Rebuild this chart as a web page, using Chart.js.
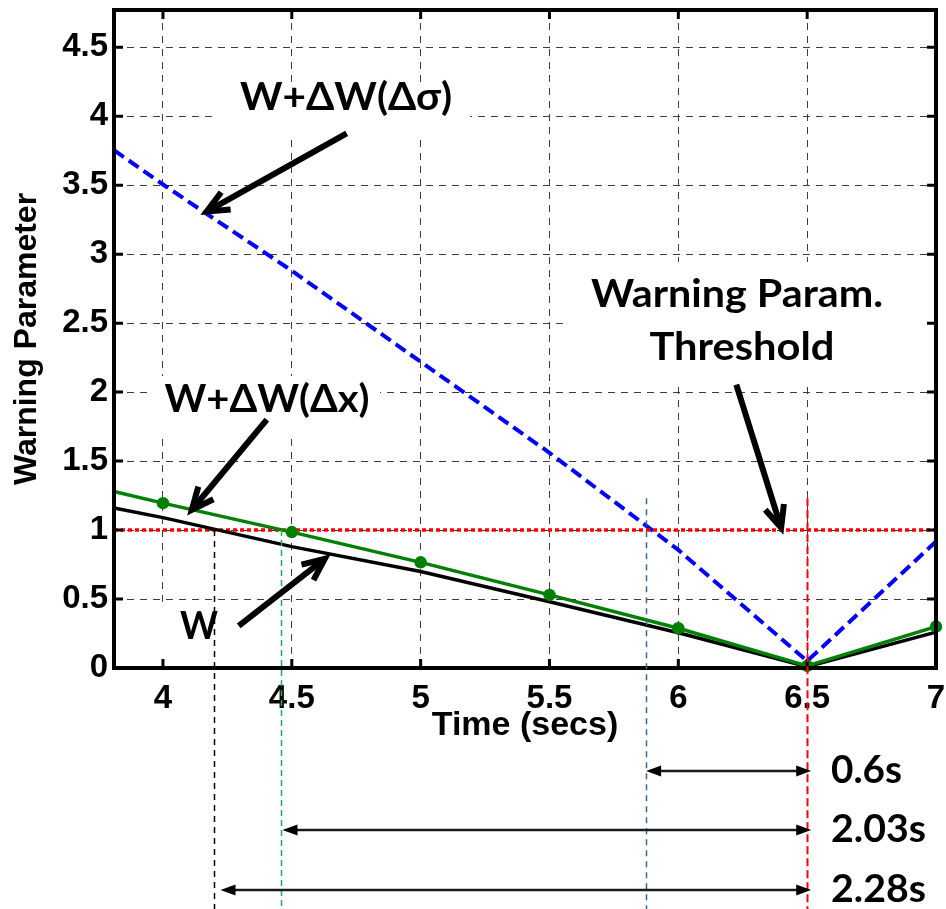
<!DOCTYPE html>
<html>
<head>
<meta charset="utf-8">
<script src="https://cdn.jsdelivr.net/npm/chart.js@4"></script>
<style>
  html, body { margin: 0; background: #fff; }
  #wrap { width: 946px; height: 909px; position: relative; }
</style>
</head>
<body>
<div id="wrap"><canvas id="warnChart"></canvas></div>
<script>
// time (secs)
const times = [3.81, 4, 4.5, 5, 5.5, 6, 6.5, 7];
// W
const wBase = [1.16, 1.09, 0.88, 0.70, 0.48, 0.256, 0.01, 0.26];
// W + dW(dx)
const wDx = [1.28, 1.195, 0.985, 0.766, 0.53, 0.288, 0.015, 0.30];
// W + dW(dsigma)
const wDsigma = [3.754, 3.505, 2.88, 2.22, 1.56, 0.856, 0.05, 0.917];

const threshold = 1;
const xTicks = [4, 4.5, 5, 5.5, 6, 6.5, 7];
const yTicks = [0, 0.5, 1, 1.5, 2, 2.5, 3, 3.5, 4, 4.5];

// where W, W+dW(dx), W+dW(dsigma) cross the threshold, and the alarm time
const crossTimes = [4.2, 4.46, 5.875];
const alarmTime = 6.5;
const leadLabels = ['2.28s', '2.03s', '0.6s'];

const pts = vals => times.map((t, i) => ({x: t, y: vals[i]}));

// callout text, stretched sideways to the width it has in the figure
function fitText(ctx, text, cx, base, size, width, align) {
  ctx.font = `bold ${size}px Lato`;
  const w = ctx.measureText(text).width;
  const k = width / w;
  ctx.save();
  ctx.translate(align === 'left' ? cx : cx - width / 2, base);
  ctx.scale(k, 1);
  ctx.textAlign = 'left';
  ctx.textBaseline = 'alphabetic';
  ctx.fillText(text, 0, 0);
  ctx.restore();
}

function openArrow(ctx, x0, y0, x1, y1) {
  const ang = Math.atan2(y1 - y0, x1 - x0);
  ctx.beginPath();
  ctx.moveTo(x0, y0);
  ctx.lineTo(x1 - 3 * Math.cos(ang), y1 - 3 * Math.sin(ang));
  ctx.stroke();
  const L = 24, s = 0.42;
  ctx.beginPath();
  ctx.moveTo(x1 - L * Math.cos(ang - s), y1 - L * Math.sin(ang - s));
  ctx.lineTo(x1, y1);
  ctx.lineTo(x1 - L * Math.cos(ang + s), y1 - L * Math.sin(ang + s));
  ctx.stroke();
}

function headAt(ctx, xt, yt, dir) {
  ctx.beginPath();
  ctx.moveTo(xt, yt);
  ctx.lineTo(xt - dir * 15, yt - 5.5);
  ctx.lineTo(xt - dir * 15, yt + 5.5);
  ctx.closePath();
  ctx.fill();
}

const overlay = {
  id: 'overlay',
  beforeDatasetsDraw(chart) {
    const ctx = chart.ctx;
    ctx.save();
    ctx.fillStyle = '#fff';
    [[214, 83, 256, 56], [567, 262, 372, 123], [150, 376, 230, 59], [140, 605, 110, 61]]
      .forEach(b => ctx.fillRect(b[0], b[1], b[2], b[3]));
    ctx.restore();
  },
  afterDraw(chart) {
    const {ctx, chartArea: a, scales: {x, y}} = chart;
    ctx.save();

    // frame + inward ticks
    ctx.strokeStyle = '#000';
    ctx.lineWidth = 4;
    ctx.strokeRect(a.left, a.top, a.right - a.left, a.bottom - a.top);
    ctx.lineWidth = 3;
    ctx.beginPath();
    xTicks.forEach(v => {
      const px = x.getPixelForValue(v);
      ctx.moveTo(px, a.bottom); ctx.lineTo(px, a.bottom - 9);
      ctx.moveTo(px, a.top); ctx.lineTo(px, a.top + 9);
    });
    yTicks.forEach(v => {
      const py = y.getPixelForValue(v);
      ctx.moveTo(a.left, py); ctx.lineTo(a.left + 9, py);
      ctx.moveTo(a.right, py); ctx.lineTo(a.right - 9, py);
    });
    ctx.stroke();

    // vertical reference lines down to the bottom of the picture
    const refs = [
      {t: crossTimes[0], from: 1.0, color: '#000000', dash: [6, 5], w: 1.5},
      {t: crossTimes[1], from: 1.0, color: '#1fae55', dash: [6, 4], w: 1.5},
      {t: crossTimes[2], from: 1.23, color: '#3b6794', dash: [6, 5], w: 1.5},
      {t: alarmTime, from: 1.23, color: '#ff0000', dash: [8, 4], w: 2}
    ];
    refs.forEach(r => {
      const px = Math.round(x.getPixelForValue(r.t)) + 0.5;
      ctx.strokeStyle = r.color;
      ctx.lineWidth = r.w;
      ctx.setLineDash(r.dash);
      ctx.beginPath();
      ctx.moveTo(px, y.getPixelForValue(r.from));
      ctx.lineTo(px, chart.height);
      ctx.stroke();
    });
    ctx.setLineDash([]);

    // lead-time double arrows
    const rowY = [890, 830, 771];
    const leftPad = [6, 1, 0];
    const labelW = [95, 95, 71];
    ctx.strokeStyle = '#1a1a1a';
    ctx.fillStyle = '#000';
    ctx.lineWidth = 2.5;
    crossTimes.forEach((t, i) => {
      const xl = x.getPixelForValue(t) + leftPad[i];
      const xr = x.getPixelForValue(alarmTime) + 4;
      ctx.beginPath();
      ctx.moveTo(xl + 10, rowY[i]);
      ctx.lineTo(xr - 10, rowY[i]);
      ctx.stroke();
      headAt(ctx, xl, rowY[i], -1);
      headAt(ctx, xr, rowY[i], 1);
      fitText(ctx, leadLabels[i], 831, rowY[i] + 12, 39, labelW[i], 'left');
    });

    // callout arrows
    ctx.strokeStyle = '#000';
    ctx.lineWidth = 6;
    ctx.lineJoin = 'miter';
    const P = (tx, wy) => [x.getPixelForValue(tx), y.getPixelForValue(wy)];
    [
      [4.713, 3.875, 4.17, 3.309],
      [6.225, 2.054, 6.399, 1.016],
      [4.403, 1.80, 4.112, 1.147],
      [4.294, 0.305, 4.628, 0.791]
    ].forEach(c => {
      const [x0, y0] = P(c[0], c[1]);
      const [x1, y1] = P(c[2], c[3]);
      openArrow(ctx, x0, y0, x1, y1);
    });

    // callout texts
    ctx.fillStyle = '#000';
    [
      ['W+\u0394W(\u0394\u03c3)', 346, 110, 212],
      ['Warning Param.', 737, 307, 292],
      ['Threshold', 742, 360, 185],
      ['W+\u0394W(\u0394x)', 267, 412, 205],
      ['W', 199, 639, 38]
    ].forEach(t => fitText(ctx, t[0], t[1], t[2], 39, t[3], 'center'));
    ctx.restore();
  }
};

new Chart(document.getElementById('warnChart'), {
  type: 'line',
  data: {
    datasets: [
      {
        label: 'W+\u0394W(\u0394\u03c3)', data: pts(wDsigma),
        borderColor: '#0000ff', borderWidth: 4, borderDash: [12, 6],
        pointRadius: 0, order: 4
      },
      {
        label: 'Threshold',
        data: [{x: 3.81, y: threshold}, {x: 7, y: threshold}],
        borderColor: '#ff0000', borderWidth: 3.5, borderDash: [4, 3],
        pointRadius: 0, order: 3
      },
      {
        label: 'W', data: pts(wBase),
        borderColor: '#000000', borderWidth: 3.5,
        pointRadius: 0, order: 2
      },
      {
        label: 'W+\u0394W(\u0394x)', data: pts(wDx),
        borderColor: '#008000', borderWidth: 3.5,
        pointRadius: c => (c.dataIndex === 0 ? 0 : 4.5),
        pointBackgroundColor: '#008000', pointBorderColor: '#008000',
        order: 1
      }
    ]
  },
  options: {
    responsive: true,
    maintainAspectRatio: false,
    animation: false,
    clip: false,
    layout: {padding: {top: 10, right: 10, left: 0, bottom: 0}},
    plugins: {legend: {display: false}, tooltip: {enabled: false}},
    elements: {line: {tension: 0}},
    scales: {
      x: {
        type: 'linear', min: 3.81, max: 7,
        afterBuildTicks: s => { s.ticks = xTicks.map(v => ({value: v})); },
        afterFit: s => { s.height = 241; s.paddingLeft = 0; s.paddingRight = 0; },
        ticks: {
          callback: v => String(v), padding: 11, color: '#000',
          font: {family: 'Liberation Sans', size: 33, weight: 'bold'}
        },
        grid: {color: '#3c3c3c', lineWidth: 1, drawTicks: false},
        border: {display: false, dash: [7, 6]},
        title: {
          display: true, text: 'Time (secs)', color: '#000',
          font: {family: 'Liberation Sans', size: 34, weight: 'bold'},
          padding: {top: 0, bottom: 163}
        }
      },
      y: {
        min: 0, max: 4.77,
        afterBuildTicks: s => { s.ticks = yTicks.map(v => ({value: v})); },
        afterFit: s => { s.width = 114; s.paddingTop = 0; s.paddingBottom = 0; },
        ticks: {
          callback: v => String(v), padding: 6, color: '#000',
          font: {family: 'Liberation Sans', size: 33, weight: 'bold'}
        },
        grid: {color: '#3c3c3c', lineWidth: 1, drawTicks: false},
        border: {display: false, dash: [7, 6]},
        title: {
          display: true, text: 'Warning Parameter', color: '#000',
          font: {family: 'Liberation Sans', size: 32, weight: 'bold'},
          padding: {top: 8, bottom: 0}
        }
      }
    }
  },
  plugins: [overlay]
});
</script>
</body>
</html>
